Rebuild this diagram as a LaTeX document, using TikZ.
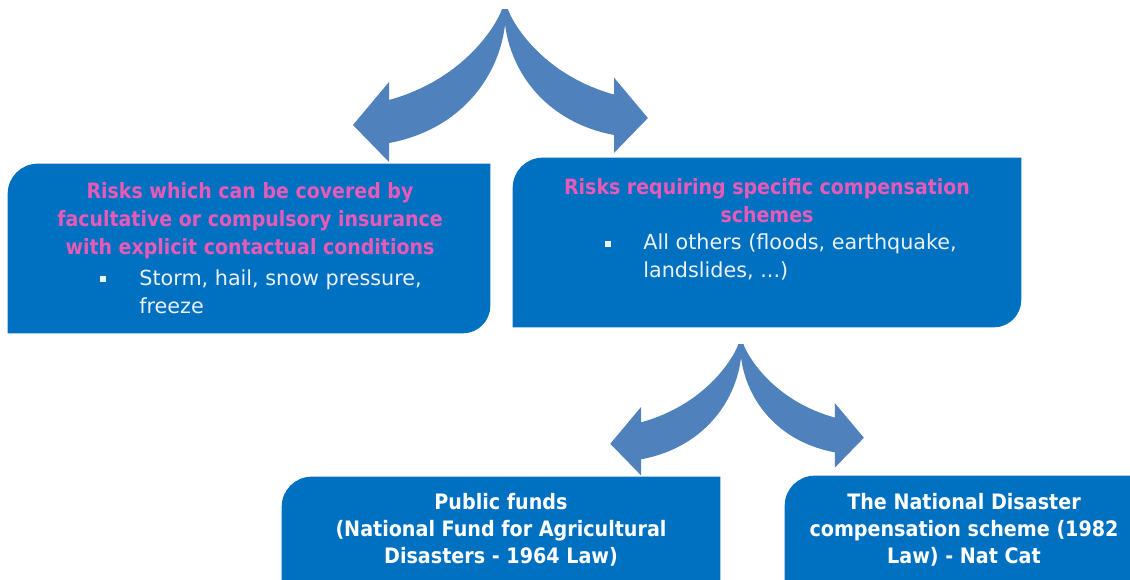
\documentclass[tikz,border=0pt]{standalone}
\usepackage{fontspec}
\setmainfont{DejaVu Sans Condensed}
\newfontfamily\itemfont{DejaVu Sans}
\usetikzlibrary{backgrounds}

\definecolor{boxblue}{HTML}{0070C0}
\definecolor{forkblue}{HTML}{4F81BD}
\definecolor{titlepink}{HTML}{E75AB8}
\definecolor{itemwhite}{HTML}{EAF2FA}

\tikzset{
  panel/.style={inner sep=0pt},
  headtext/.style={align=center, text=titlepink, font=\fontsize{12}{15.9}\selectfont\bfseries},
  itemtext/.style={align=left, inner sep=0pt, text=itemwhite, font=\itemfont\fontsize{11.8}{15.9}\selectfont},
  fundtext/.style={align=center, text=white, font=\fontsize{12.1}{15.3}\selectfont\bfseries},
  bulletmark/.style={fill=itemwhite, minimum size=3.4pt, inner sep=0pt},
  % curved split arrow, apex at the origin
  fork/.pic={
    \fill[forkblue] (-3,0) .. controls (-8,15) and (-40,70) .. (-116,91)
      -- (-116,73) -- (-152,116) -- (-116,153) -- (-116,134)
      .. controls (-40,120) and (1,60) .. (1,0) -- cycle;
    \fill[forkblue, xscale=-1, scale=0.94] (-3,0) .. controls (-8,15) and (-40,70) .. (-116,91)
      -- (-116,73) -- (-152,116) -- (-116,153) -- (-116,134)
      .. controls (-40,120) and (1,60) .. (1,0) -- cycle;
  }
}

% box with rounded top left and bottom right corner
\newcommand\panelshape[1]{%
  \fill[boxblue] (#1.south west) -- ([yshift=-0.6cm]#1.north west)
    arc[start angle=180, end angle=90, radius=0.6cm] -- (#1.north east)
    -- ([yshift=0.55cm]#1.south east)
    arc[start angle=0, end angle=-90, radius=0.55cm] -- cycle;}

\begin{document}
\begin{tikzpicture}[x=0.02cm, y=-0.02cm]
  \useasboundingbox (0,0) rectangle (1130,579);

  % boxes
  \node[panel, minimum width=9.64cm, minimum height=3.38cm] (cover) at (249,248.5) {};
  \node[panel, minimum width=10.16cm, minimum height=3.38cm] (special) at (767,242.5) {};
  \node[panel, minimum width=8.76cm, minimum height=2.8cm] (funds) at (501,547) {};
  \node[panel, minimum width=7.3cm, minimum height=2.8cm] (natcat) at (967.5,546) {};

  \begin{scope}[on background layer]
    \panelshape{cover}
    \panelshape{special}
    \panelshape{funds}
    \panelshape{natcat}
  \end{scope}

  % arrows
  \coordinate (topfork) at (505,9);
  \coordinate (lowfork) at (741,344);
  \pic at (topfork) {fork};
  \pic[scale=0.86] at (lowfork) {fork};

  % texts
  \node[headtext] (covertitle) at (250,221) {Risks which can be covered by\\facultative or compulsory insurance\\with explicit contactual conditions};
  \node[bulletmark] (coverbullet) at (103,279) {};
  \node[itemtext, anchor=west] (coveritem) at (139,291.5) {Storm, hail, snow pressure,\\freeze};

  \node[headtext] (specialtitle) at (767,201) {Risks requiring specific compensation\\schemes};
  \node[bulletmark] (specialbullet) at (608,244) {};
  \node[itemtext, anchor=west] (specialitem) at (643,257) {All others (floods, earthquake,\\landslides, ...)};

  \node[fundtext] (fundstext) at (501,530) {Public funds\\(National Fund for Agricultural\\Disasters - 1964 Law)};
  \node[fundtext] (natcattext) at (964,530) {The National Disaster\\compensation scheme (1982\\Law) - Nat Cat};
\end{tikzpicture}
\end{document}
